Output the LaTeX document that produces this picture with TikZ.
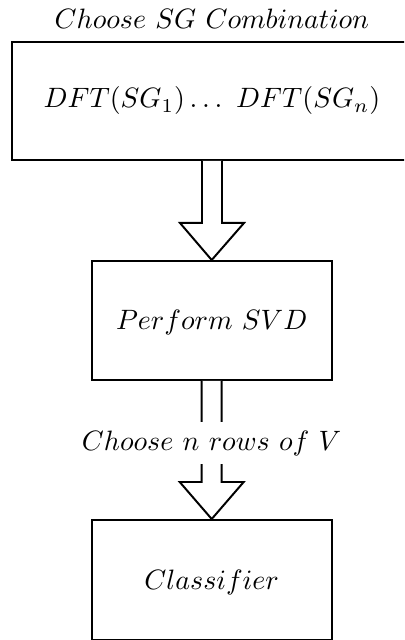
\documentclass[tikz,border=0pt]{standalone}
\usetikzlibrary{calc}
\begin{document}
\begin{tikzpicture}[x=0.357pt,y=-0.357pt,
  box/.style={draw, line width=0.7pt, inner sep=0pt, minimum width=240*0.357pt, minimum height=119*0.357pt},
  lowtext/.style={text height=8.5pt, text depth=1.94pt},
  blockarrow/.style={draw, line width=0.7pt, fill=white, line join=miter},
  lbl/.style={inner sep=0pt}]
\clip (0,0) rectangle (404,640);
\useasboundingbox (0,0) rectangle (404,640);
% boxes
\node[box, minimum width=400*0.357pt, minimum height=118*0.357pt] (top) at (212,101) {$DFT(SG_1)\ldots\ DFT(SG_n)$};
\node[lbl] (title) at (212,18.5) {$Choose\ SG\ Combination$};
\node[box, lowtext] (svd) at (211.7,320.5) {$Perform\ SVD$};
\node[box, lowtext, minimum height=120*0.357pt] (cls) at (211.7,580) {$Classifier$};
% arrow 1
\draw[blockarrow] ($(top.south)+(-10,0)$) -- ($(top.south)+(-10,62)$) -- ($(top.south)+(-32,62)$)
  -- (svd.north) -- ($(top.south)+(32,62)$) -- ($(top.south)+(10,62)$) -- ($(top.south)+(10,0)$);
% arrow 2
\draw[blockarrow] ($(svd.south)+(-10,0)$) -- ($(svd.south)+(-10,101)$) -- ($(svd.south)+(-32,101)$)
  -- (cls.north) -- ($(svd.south)+(32,101)$) -- ($(svd.south)+(10,101)$) -- ($(svd.south)+(10,0)$);
\node[lbl, fill=white, inner ysep=3pt] (rows) at (211.7,443) {$Choose\ n\ rows\ of\ V$};
\end{tikzpicture}
\end{document}
